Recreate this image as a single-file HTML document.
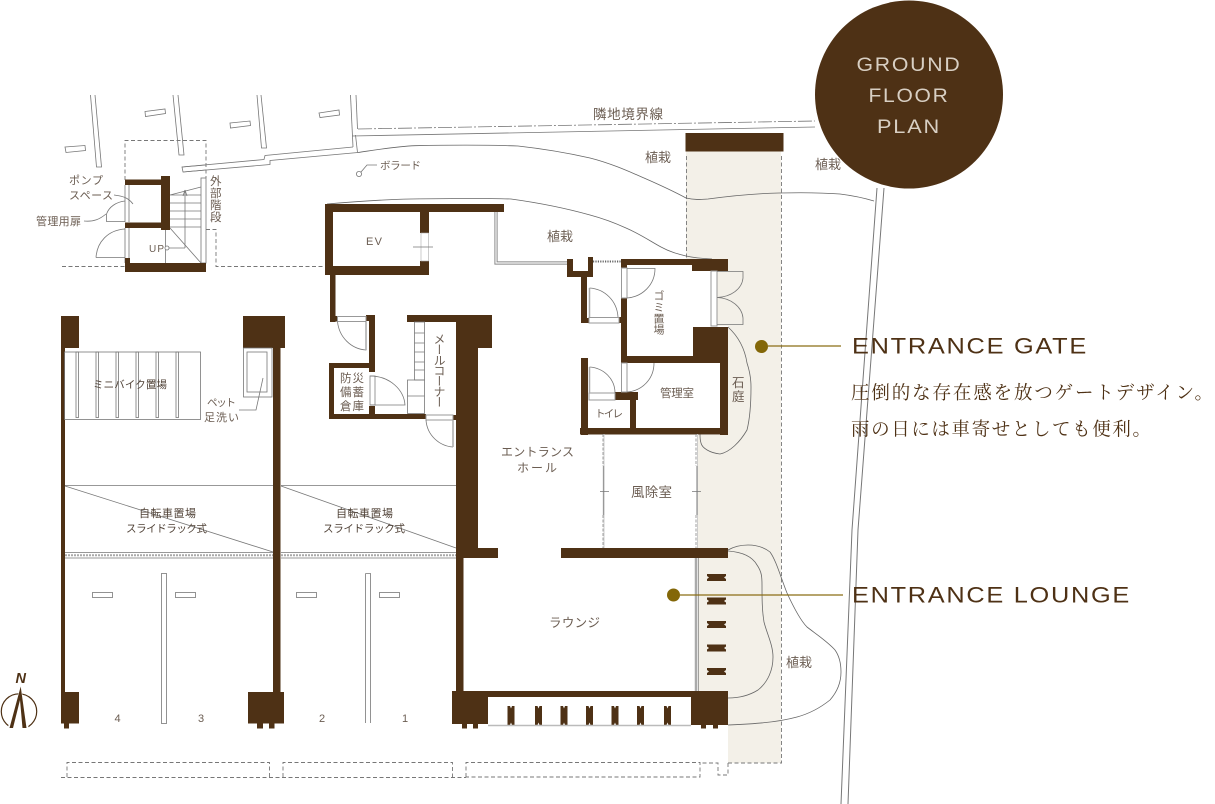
<!DOCTYPE html>
<html lang="ja"><head><meta charset="utf-8"><title>Ground Floor Plan</title>
<style>
html,body{margin:0;padding:0;background:#fff;width:1215px;height:804px;overflow:hidden}
svg{display:block}
.w{fill:#4e3115}
.l{fill:none;stroke:#777;stroke-width:.8}
.g{fill:#fff;stroke:#999;stroke-width:1}
.d{fill:none;stroke:#777;stroke-width:.9;stroke-dasharray:4 2.5}
.c{fill:none;stroke:#666;stroke-width:.8}
text{font-family:"Liberation Sans","Noto Sans CJK JP",sans-serif;fill:#6b5d52;font-size:13px}
.v{writing-mode:vertical-rl}
</style></head><body>
<svg width="1215" height="804" viewBox="0 0 1215 804" xmlns="http://www.w3.org/2000/svg">
<rect width="1215" height="804" fill="#fff"/>
<!-- beige strip -->
<polygon points="686,151 781,151 781,763 728,763 728,725 698,725 698,435 728,435 728,326 717,326 717,259 686,259" fill="#f3f0e8"/>
<path class="d" d="M686.5 156V259M781.5 156V763H728M728 763V775H718V763H700"/>
<!-- property lines -->
<g class="l">
<polyline points="90.5,95 96.5,167 101.5,167 95,95"/>
<polyline points="173,95 179,155 184,155 178,95"/>
<polyline points="257,95 261.5,148 266.5,148 261,95"/>
<polygon points="65,147 85,145.5 85.5,150.5 66,152.5"/>
<polygon points="145,111.5 165,109 165.5,113.5 145.5,116.5"/>
<polygon points="230,123 250,121 250.5,125.5 230.5,128"/>
<polygon points="319,113 339,110 339.5,115 320,117.5"/>
<polyline points="206,165 182,167 183,172 206,170"/>
<polyline points="182,167 264,159.5 265,155.5 353,147"/>
<polyline points="183,172 270,164.5 270,160.5 358,152.5"/>
<polyline points="350.5,95 353,147"/>
<polyline points="356,95 357.5,129"/>
<polyline points="355.5,135 357.5,152.5"/>
<polyline points="352,136 815,127"/>
<polyline points="877,188 852,530 841,804" stroke-width="1"/>
<polyline points="884,188 858,530 848,804" stroke-width="1"/>
</g>
<path d="M358 129L815 121" fill="none" stroke="#777" stroke-width=".8" stroke-dasharray="14 2 2 2"/>
<!-- planting curves -->
<path class="c" d="M358 152.5C375 150 395 146.5 415 145.7C450 145 490 145 518 146C545 149 568 153 590 158C610 163 628 171 644 178C660 185 675 192 686 198C695 200 700 199.5 708 199C730 196 755 193.5 779 193C800 192.5 820 192.5 840 194C852 195.5 864 198 874 201"/>
<path class="c" d="M327 204C350 202 380 199.5 411 199C445 198.5 480 198 511 199C540 203 565 208 590 215C605 219 615 223 626 228C640 234 650 241 661 247C670 252 678 254 686 256C695 258 702 258.5 712 259"/>
<path class="c" d="M728 327C740 338 745 350 747 363C750 372 751 380 751 387C751 405 750 418 747 430C740 442 730 452 720 454C710 453 702 448 701 443C700 440 700 437 700 434"/>
<path class="c" d="M728 551C742 552 752 556 757 565C762 572 762 578 762 585C762 598 762 610 764 622C767 634 773 645 773 657C773 670 768 682 758 690C750 695 740 698 728 698"/>
<path class="c" d="M728 550C735 546 742 545 748 545C758 545 765 548 770 552C776 560 781 578 787 593C793 606 800 620 807 627C816 634 828 642 835 650C840 657 841 665 841 672C841 682 837 692 830 700C820 708 808 714 797 717C775 723 750 724 728 725"/>
<!-- upper-left pump room -->
<path class="d" d="M125 180V140.5H206V178M62 266.5H125M206 229.5H216V266.5H327"/>
<g class="l">
<path d="M125 185V222M129 185V222M125 228V263M129 228V263"/>
<rect x="201" y="178" width="5" height="85" fill="#fff"/>
<path d="M170 195L201 187M170 195H201M170 203H201M170 211H201M170 219H201M170 227H201M185 190V248M165.5 230V263M170 228L201 263M168.5 248H185"/>
<path d="M185 190L183 196M185 190L187 196"/>
<path d="M106.5 214V221.5H125M106.5 214C109 207 116 202 125 201"/>
<path d="M96 257.5H125M96 257.5C97 242 108 230 125 229"/>
<circle cx="167" cy="248" r="2" fill="#fff"/>
<path d="M114 195C120 196 127 196 133 204M84 221C94 222 100 219 106 214"/>
</g>
<g class="w">
<rect x="125" y="179.5" width="45" height="5.5"/>
<rect x="161" y="176" width="9" height="54"/>
<rect x="125" y="222.5" width="45" height="5.5"/>
<rect x="125" y="263" width="81" height="9"/>
<rect x="125" y="258" width="5" height="8"/>
<!-- EV core -->
<rect x="325" y="204" width="179" height="8"/>
<rect x="325" y="204" width="8" height="71"/>
<rect x="325" y="266" width="104" height="9"/>
<rect x="420" y="204" width="9" height="29"/>
<rect x="420" y="261" width="9" height="14"/>
<rect x="330" y="275" width="5.5" height="47"/>
<rect x="330" y="316" width="7.5" height="5.5"/>
<rect x="366" y="315" width="9" height="6"/>
<rect x="369" y="315" width="6" height="57"/>
<rect x="329" y="363" width="46" height="5"/>
<rect x="329" y="363" width="5" height="56"/>
<rect x="329" y="414" width="97" height="5"/>
<rect x="369" y="406" width="6" height="13"/>
<!-- mail & hall wall -->
<rect x="407" y="315" width="85" height="7"/>
<rect x="456" y="315" width="36" height="33"/>
<rect x="456" y="315" width="22" height="243"/>
<rect x="453" y="415" width="5" height="5"/>
<!-- lounge -->
<rect x="456" y="548" width="42" height="10"/>
<rect x="561" y="548" width="167" height="10"/>
<rect x="456" y="548" width="7.5" height="150"/>
<rect x="452" y="691" width="276" height="6"/>
<rect x="452" y="691" width="36" height="33"/>
<rect x="691" y="691" width="37" height="34"/>
<rect x="462" y="723" width="5" height="5.5"/><rect x="473" y="723" width="5" height="5.5"/>
<rect x="701" y="725" width="5" height="3.5"/><rect x="713" y="725" width="5" height="3.5"/>
<!-- parking walls -->
<rect x="61" y="316" width="18" height="32"/>
<rect x="61" y="348" width="4" height="345"/>
<rect x="61" y="692" width="18" height="31.5"/>
<rect x="64" y="723" width="5" height="5.5"/>
<rect x="243" y="316" width="42" height="32"/>
<rect x="273" y="348" width="7.5" height="345"/>
<rect x="248" y="692" width="36" height="31.5"/>
<rect x="257" y="723" width="6" height="5.5"/><rect x="269" y="723" width="5.5" height="5.5"/>
<!-- service rooms -->
<rect x="567" y="259" width="6" height="18"/>
<rect x="567" y="271" width="26" height="6"/>
<rect x="588" y="257" width="5" height="20"/>
<rect x="581" y="277" width="6" height="46"/>
<rect x="581" y="318" width="8" height="5"/>
<rect x="621" y="259" width="107" height="6"/>
<rect x="621" y="259" width="6" height="9"/>
<rect x="692" y="259" width="36" height="12"/>
<rect x="621" y="298" width="6" height="65"/>
<rect x="619" y="317" width="8" height="6"/>
<rect x="621" y="356" width="107" height="7"/>
<rect x="693" y="327" width="35" height="36"/>
<rect x="720" y="327" width="8" height="108"/>
<rect x="580" y="428" width="148" height="6.5"/>
<rect x="581" y="358" width="7" height="77"/>
<rect x="615" y="392" width="23" height="8"/>
<rect x="630" y="392" width="6" height="42"/>
</g>
<!-- notched bars -->
<g class="w">
<polygon points="707,574 726,574 726,576 724,577.5 726,579 726,581 707,581 707,579 709,577.5 707,576"/>
<polygon points="707,597.5 726,597.5 726,599.5 724,601 726,602.5 726,604.5 707,604.5 707,602.5 709,601 707,599.5"/>
<polygon points="707,621 726,621 726,623 724,624.5 726,626 726,628 707,628 707,626 709,624.5 707,623"/>
<polygon points="707,644.5 726,644.5 726,646.5 724,648 726,649.5 726,651.5 707,651.5 707,649.5 709,648 707,646.5"/>
<polygon points="707,668 726,668 726,670 724,671.5 726,673 726,675 707,675 707,673 709,671.5 707,670"/>
<polygon points="507.5,706 510,706 511,708.5 512,706 514.5,706 514.5,725 512,725 511,722.5 510,725 507.5,725"/>
<polygon points="535,706 537.5,706 538.5,708.5 539.5,706 542,706 542,725 539.5,725 538.5,722.5 537.5,725 535,725"/>
<polygon points="560.5,706 563,706 564,708.5 565,706 567.5,706 567.5,725 565,725 564,722.5 563,725 560.5,725"/>
<polygon points="586,706 588.5,706 589.5,708.5 590.5,706 593,706 593,725 590.5,725 589.5,722.5 588.5,725 586,725"/>
<polygon points="611.5,706 614,706 615,708.5 616,706 618.5,706 618.5,725 616,725 615,722.5 614,725 611.5,725"/>
<polygon points="637,706 639.5,706 640.5,708.5 641.5,706 644,706 644,725 641.5,725 640.5,722.5 639.5,725 637,725"/>
<polygon points="664,706 666.5,706 667.5,708.5 668.5,706 671,706 671,725 668.5,725 667.5,722.5 666.5,725 664,725"/>
</g>
<!-- top gate bar -->
<rect class="w" x="685.5" y="133" width="98" height="18.5"/>
<!-- glass, doors -->
<g>
<rect x="421" y="233" width="7.5" height="28" fill="#fff" stroke="#aaa" stroke-width=".6"/>
<path d="M413 247H433" class="l"/>
<path d="M496 212V263H567" fill="none" stroke="#888" stroke-width="3.2"/>
<path d="M496 212V263H567" fill="none" stroke="#fff" stroke-width="1.2"/>
<path d="M593 261.5H621" fill="none" stroke="#666" stroke-width="2" stroke-dasharray="1.2 1.2"/>
<path d="M696 558V691" fill="none" stroke="#aaa" stroke-width="2.5"/>
<path d="M698.3 558V691" fill="none" stroke="#777" stroke-width=".7"/>
<path d="M488 725.5H691" fill="none" stroke="#bbb" stroke-width="1.5"/>
<rect class="g" x="337.5" y="316.5" width="28.5" height="5"/>
<path class="l" d="M337.5 321.5C339 337 351 349 366 350V321.5"/>
<path d="M366 322V350" stroke="#aaa" stroke-width="1.5"/>
<rect class="g" x="370" y="376" width="5" height="29"/>
<path class="l" d="M370 376C390 376 404 390 405 405H370"/>
<rect class="g" x="426" y="415" width="27" height="5"/>
<path class="l" d="M426 420C427 435 439 446 453 447"/>
<path d="M453 420V447" stroke="#aaa" stroke-width="1.5"/>
<g class="l">
<rect x="414.5" y="322" width="10" height="58"/>
<path d="M414.5 333H424.5M414.5 343H424.5M414.5 352H424.5M414.5 362H424.5M414.5 370H424.5"/>
<rect x="407.5" y="380" width="17" height="33.5"/>
<path d="M407.5 396H424.5"/>
</g>
<rect class="g" x="621.5" y="268" width="5.5" height="30"/>
<path class="l" d="M627 268.5H655C655 285 642 297 627 298"/>
<rect class="g" x="621.5" y="363" width="5.5" height="29"/>
<path class="l" d="M627 392C642 391 654 379 654 363"/>
<rect class="g" x="589" y="393" width="26" height="7"/>
<path class="l" d="M589.5 367C604 368 615 379 615 393"/>
<path d="M589.5 367V393" stroke="#aaa" stroke-width="1.5"/>
<rect class="g" x="589" y="317.5" width="30" height="5.5"/>
<path class="l" d="M589.5 288C605 289 617 301 618 317"/>
<path d="M589.5 288V317" stroke="#aaa" stroke-width="1.5"/>
<rect class="g" x="711" y="271" width="6" height="55"/>
<path class="l" d="M717 271.5H743V278C742 289 731 297 717 297.5C731 298 742 307 743 318V324.5H717"/>
<path d="M603 434V466M603 515V548M696 434V466M696 515V548" stroke="#888" stroke-width=".8" stroke-dasharray="3 1.5" fill="none"/>
<path d="M604 434V548M697.5 434V548" stroke="#ccc" stroke-width="1" fill="none"/>
<path d="M603.5 466V515M697 466V515" stroke="#999" stroke-width="1.3" fill="none"/>
<path class="l" d="M600 491.5H609M692 491.5H701"/>
</g>
<!-- parking details -->
<g class="l" stroke="#888">
<rect x="64.5" y="352" width="136" height="67.5"/>
<rect x="76" y="352" width="2.5" height="65.5"/><rect x="96" y="352" width="2.5" height="65.5"/><rect x="116" y="352" width="2.5" height="65.5"/><rect x="136" y="352" width="2.5" height="65.5"/><rect x="156" y="352" width="2.5" height="65.5"/><rect x="176" y="352" width="2.5" height="65.5"/>
<rect x="243.5" y="348" width="28.5" height="49"/>
<rect x="247" y="352" width="20" height="40"/>
<path d="M263 378L256 410H239"/>
<path d="M65 485.5H273M281 485.5H456M65 486L273 552M281 486L456 548"/>
<path d="M65 552.5H273M281 552.5H456M65 558H273M281 558H456"/>
<rect x="161.5" y="573.5" width="5" height="150"/>
<path d="M365.5 573.5H370.5V723M365.5 573.5V723"/>
<rect x="92.5" y="592.5" width="20" height="5"/><rect x="175.5" y="592.5" width="20" height="5"/><rect x="296.5" y="592.5" width="20" height="5"/><rect x="379.5" y="592.5" width="20" height="5"/>
<circle cx="359" cy="174" r="2.6"/>
<path d="M361 172L367 165H377"/>
</g>
<path d="M65 555.2H273M281 555.2H456" fill="none" stroke="#aaa" stroke-width="2" stroke-dasharray="2 1"/>
<!-- bottom dashed -->
<path class="d" d="M61 777.5H466M67 777V762.5H269.5V777M283 777V762.5H452.5V777M466 777V762.5H700V777H466"/>
<!-- callouts -->
<path d="M768 346H841M680 595H843" stroke="#8a6d14" stroke-width="1.2" fill="none"/>
<circle cx="761.5" cy="346.5" r="6.5" fill="#836708"/>
<circle cx="673.5" cy="595" r="6.5" fill="#836708"/>
<!-- circle title -->
<circle cx="909" cy="94.5" r="94" fill="#4e3115"/>
<g text-anchor="middle">
<text x="909" y="71" lengthAdjust="spacingAndGlyphs" textLength="105" style="fill:#d8cfc3;font-size:19.5px;letter-spacing:1.6px">GROUND</text>
<text x="909" y="102" lengthAdjust="spacingAndGlyphs" textLength="81" style="fill:#d8cfc3;font-size:19.5px;letter-spacing:1.6px">FLOOR</text>
<text x="909" y="133" lengthAdjust="spacingAndGlyphs" textLength="64" style="fill:#d8cfc3;font-size:19.5px;letter-spacing:1.6px">PLAN</text>
</g>
<text x="852" y="353.5" lengthAdjust="spacingAndGlyphs" textLength="236" style="font-size:22px;fill:#4e3115;letter-spacing:1.5px">ENTRANCE GATE</text>
<text x="852" y="602.5" lengthAdjust="spacingAndGlyphs" textLength="279" style="font-size:22px;fill:#4e3115;letter-spacing:1.5px">ENTRANCE LOUNGE</text>
<text x="851" y="399" textLength="362" style='font-family:"Liberation Serif","Noto Serif CJK JP","Noto Serif CJK SC",serif;font-size:18.5px;fill:#4e3115'>圧倒的な存在感を放つゲートデザイン。</text>
<text x="851" y="435.5" textLength="300" style='font-family:"Liberation Serif","Noto Serif CJK JP","Noto Serif CJK SC",serif;font-size:18.5px;fill:#4e3115'>雨の日には車寄せとしても便利。</text>
<!-- labels -->
<text x="593" y="119" textLength="70" style="font-size:13.5px">隣地境界線</text>
<text x="645" y="162">植栽</text>
<text x="815" y="169">植栽</text>
<text x="547" y="241">植栽</text>
<text x="786" y="667">植栽</text>
<text x="380" y="169" textLength="41" style="font-size:10.5px">ボラード</text>
<text x="366" y="245" textLength="16" style="font-size:11px">EV</text>
<text x="69" y="184" textLength="34" style="font-size:11px">ポンプ</text>
<text x="69" y="199" textLength="44" style="font-size:11px">スペース</text>
<text x="36" y="225" textLength="45" style="font-size:11px">管理用扉</text>
<text x="210" y="185" style="font-size:11.5px">外</text>
<text x="210" y="197" style="font-size:11.5px">部</text>
<text x="210" y="209" style="font-size:11.5px">階</text>
<text x="210" y="221" style="font-size:11.5px">段</text>
<text x="149" y="252" textLength="15" style="font-size:10px">UP</text>
<text x="340" y="382" textLength="24" style="font-size:11.5px">防災</text>
<text x="340" y="396" textLength="24" style="font-size:11.5px">備蓄</text>
<text x="340" y="410" textLength="24" style="font-size:11.5px">倉庫</text>
<text class="v" x="439" y="333" textLength="75" style="font-size:12px">メールコーナー</text>
<text class="v" x="658" y="290" textLength="45" style="font-size:11px">ゴミ置場</text>
<text x="660" y="397" textLength="34" style="font-size:11.5px">管理室</text>
<text x="595" y="417" textLength="28" style="font-size:10.5px">トイレ</text>
<text x="732" y="387" style="font-size:12.5px">石</text>
<text x="732" y="401" style="font-size:12.5px">庭</text>
<text x="501" y="456" textLength="73" style="font-size:12px">エントランス</text>
<text x="517" y="472" textLength="40" style="font-size:12px">ホール</text>
<text x="631" y="497" textLength="41" style="font-size:13.5px">風除室</text>
<text x="549" y="627" textLength="51" style="font-size:12.5px">ラウンジ</text>
<text x="93" y="388" textLength="74" style="font-size:10.5px;fill:#4f4136">ミニバイク置場</text>
<text x="207" y="406" textLength="29" style="font-size:10.5px">ペット</text>
<text x="204" y="421" textLength="35" style="font-size:11px">足洗い</text>
<text x="139" y="517" textLength="57" style="font-size:11px;fill:#4f4136">自転車置場</text>
<text x="126" y="532" textLength="81" style="font-size:10.5px;fill:#4f4136">スライドラック式</text>
<text x="336" y="517" textLength="57" style="font-size:11px;fill:#4f4136">自転車置場</text>
<text x="323" y="532" textLength="82" style="font-size:10.5px;fill:#4f4136">スライドラック式</text>
<text x="114.5" y="722" style="font-size:11px">4</text>
<text x="198" y="722" style="font-size:11px">3</text>
<text x="319" y="722" style="font-size:11px">2</text>
<text x="402" y="722" style="font-size:11px">1</text>
<!-- north -->
<circle cx="19" cy="711.5" r="17.7" fill="none" stroke="#4e3115" stroke-width="1.2"/>
<polygon points="20.7,686 7,730 29,730" fill="#fff"/>
<polygon points="20.7,686.5 9.5,728 13,728 20,700 22.5,728 26.5,728" class="w"/>
<text x="15.5" y="683" style="font-size:14.5px;font-weight:bold;font-style:italic;fill:#4e3115">N</text>
</svg>
</body></html>
